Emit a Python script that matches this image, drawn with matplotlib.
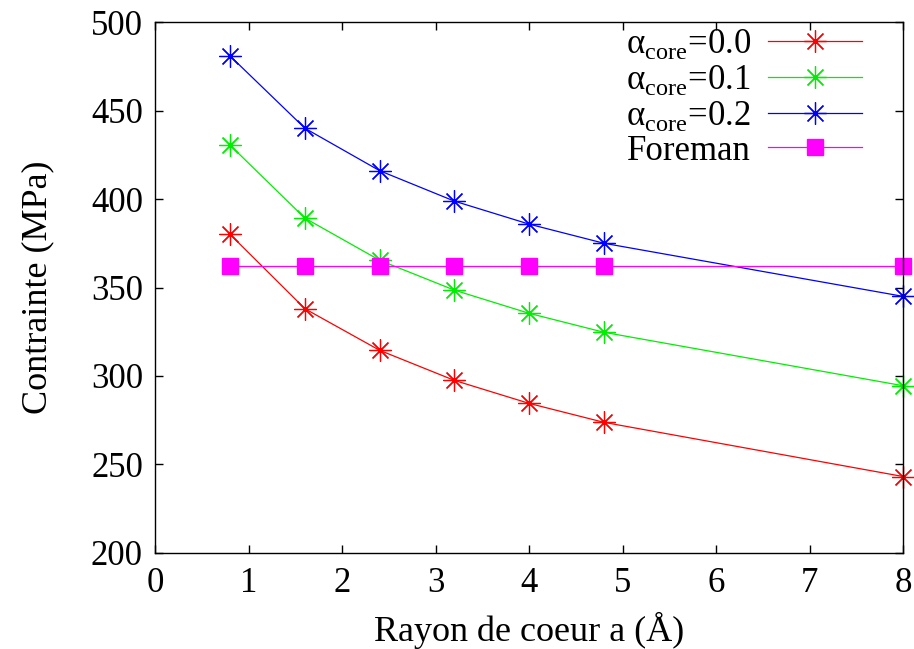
import numpy as np
import matplotlib.pyplot as plt

plt.rcParams['font.family'] = ['Liberation Serif', 'DejaVu Serif']
plt.rcParams['mathtext.fontset'] = 'custom'
plt.rcParams['mathtext.rm'] = 'Liberation Serif'

# core radius (Angstrom)
rayon = [0.8, 1.6, 2.4, 3.2, 4.0, 4.8, 8.0]

# stress (MPa) for each alpha_core
alpha_00 = [380, 338, 314.5, 297.5, 284.5, 273.8, 243.2]
alpha_01 = [430.4, 389.2, 365.4, 348.5, 335.4, 324.7, 294.5]
alpha_02 = [480.8, 440, 416, 398.8, 385.8, 375, 345]
foreman = [362, 362, 362, 362, 362, 362, 362]

labels = [r'α$_{\mathrm{core}}$=0.0', r'α$_{\mathrm{core}}$=0.1',
          r'α$_{\mathrm{core}}$=0.2', 'Foreman']

fig = plt.figure(figsize=(9.14, 6.49), dpi=100)
ax = fig.add_axes([0.170, 0.148, 0.818, 0.818])

star = (8, 2, 0)
ax.plot(rayon, alpha_00, color='#ff0000', lw=0.9, marker=star, ms=16, mew=0.9,
        label=labels[0], clip_on=False)
ax.plot(rayon, alpha_01, color='#00ee00', lw=0.9, marker=star, ms=16, mew=0.9,
        label=labels[1], clip_on=False)
ax.plot(rayon, alpha_02, color='#0000ff', lw=0.9, marker=star, ms=16, mew=0.9,
        label=labels[2], clip_on=False)
ax.plot(rayon, foreman, color='#ff00ff', lw=0.9, marker='s', ms=12,
        label=labels[3], clip_on=False)

ax.set_xlim(0, 8)
ax.set_ylim(200, 500)
ax.set_xticks(range(0, 9))
ax.set_yticks(range(200, 501, 50))
ax.tick_params(direction='in', length=6, width=1, top=True, right=True,
               labelsize=25, pad=9)
ax.tick_params(axis='x', pad=10)
for s in ax.spines.values():
    s.set_linewidth(1)

ax.set_xlabel('Rayon de coeur a (Å)', fontsize=26, labelpad=9)
ax.set_ylabel('Contrainte (MPa)', fontsize=26, labelpad=26)

ax.legend(loc='upper right', frameon=False, markerfirst=False, fontsize=25,
          handlelength=2.7, handletextpad=0.5, labelspacing=0.05,
          borderpad=0, borderaxespad=0, bbox_to_anchor=(0.945, 0.99))

fig.savefig('out.png', dpi=100)
